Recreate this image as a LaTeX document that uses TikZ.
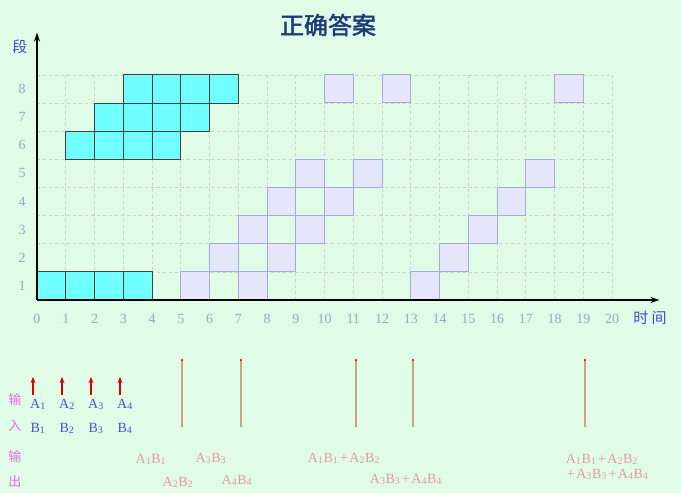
\documentclass[tikz,border=0pt]{standalone}
\usepackage{fontspec}
\setmainfont{Liberation Serif}
\newfontfamily\cjk[AutoFakeBold=2]{Noto Sans CJK SC}
\usetikzlibrary{arrows.meta}
\definecolor{bgc}{HTML}{E0FBE6}
\definecolor{cyanf}{HTML}{70FFFF}
\definecolor{lavf}{HTML}{E6E6FA}
\definecolor{lavd}{HTML}{A8A8DC}
\definecolor{gridc}{HTML}{C8D0C8}
\definecolor{axlabc}{HTML}{98A8C4}
\definecolor{titlec}{HTML}{1E3A78}
\definecolor{cjkblue}{HTML}{3A4EC8}
\definecolor{inblue}{HTML}{4555CC}
\definecolor{inpink}{HTML}{E070E0}
\definecolor{outpink}{HTML}{E09CA2}
\definecolor{vlinec}{HTML}{C8A484}
\newcommand{\sbd}[1]{\raisebox{-1pt}{\fontsize{10}{10}\selectfont #1}\kern0.6pt}
\newcommand{\pab}[1]{A\sbd{#1}B\sbd{#1}}
\newcommand{\pls}{\kern1.5pt+\kern1.5pt}
\tikzset{
  gridline/.style={draw=gridc, line width=0.6pt, dash pattern=on 3pt off 3pt},
  cyanbox/.style={fill=cyanf, draw=black!75, line width=0.9pt},
  lavbox/.style={fill=lavf, draw=lavd, line width=1pt},
  axisline/.style={draw=black, line width=1.6pt, -{Stealth[length=9pt,width=6pt]}},
  axlab/.style={text=axlabc, font=\fontsize{14}{14}\selectfont, inner sep=0pt},
  inlab/.style={text=inblue, font=\fontsize{14}{14}\selectfont, inner sep=0pt},
  inchar/.style={text=inpink, font=\cjk\fontsize{13}{13}\selectfont, inner sep=0pt},
  outlab/.style={text=outpink, font=\fontsize{14}{14}\selectfont, inner sep=0pt},
  inarrow/.style={draw=red!85!black, line width=1.2pt, -{Stealth[length=6pt,width=5pt]}},
  vline/.style={draw=vlinec, line width=1.3pt},
}
\begin{document}
\begin{tikzpicture}[x=1pt,y=-1pt]
\fill[bgc] (0,0) rectangle (681,493);
\useasboundingbox (0,0) rectangle (681,493);
\node[text=titlec, font=\cjk\bfseries\fontsize{24}{24}\selectfont, inner sep=0pt] (title) at (328,25) {正确答案};
\node[text=cjkblue, font=\cjk\fontsize{15}{15}\selectfont, inner sep=0pt] (duan) at (20,47) {段};
\node[text=cjkblue, font=\cjk\fontsize{15}{15}\selectfont, inner sep=0pt] (shijian) at (650,318) {时\ 间};
\begin{scope}[shift={(37,300)}, x=28.75pt, y=28.15pt]
  \foreach \i in {1,...,20} \draw[gridline] (\i,0) -- (\i,8);
  \foreach \j in {1,...,8} \draw[gridline] (0,\j) -- (20,\j);
  \foreach \a/\b in {0/0,1/0,2/0,3/0, 1/5,2/5,3/5,4/5, 2/6,3/6,4/6,5/6, 3/7,4/7,5/7,6/7}
    \draw[cyanbox] (\a,\b) rectangle ++(1,1);
  \foreach \a/\b in {5/0,7/0,13/0, 6/1,8/1,14/1, 7/2,9/2,15/2, 8/3,10/3,16/3, 9/4,11/4,17/4, 10/7,12/7,18/7}
    \draw[lavbox] (\a,\b) rectangle ++(1,1);
  \coordinate (O) at (0,0);
  \coordinate (xend) at (21.65,0);
  \coordinate (yend) at (0,9.5);
  \draw[axisline] (O) -- (xend);
  \draw[axisline] (O) -- (yend);
  \foreach \i in {0,...,20} \node[axlab] (xl\i) at (\i,-0.68) {\i};
  \foreach \j in {1,...,8} \node[axlab] (yl\j) at (-0.52,\j-0.5) {\j};
\end{scope}
% inputs
\node[inchar] (shu1) at (15,400) {输};
\node[inchar] (ru) at (15,426) {入};
\node[inchar] (shu2) at (15,457) {输};
\node[inchar] (chu) at (15,482) {出};
\foreach \k/\x in {1/38,2/67,3/96,4/125} {
  \node[inlab] (a\k) at (\x,404) {A\sbd{\k}};
  \node[inlab] (b\k) at (\x,428) {B\sbd{\k}};
  \coordinate (ab\k) at (\x-5,395);
  \coordinate (at\k) at (\x-5,377);
  \draw[inarrow] (ab\k) -- (at\k);
}
% vertical markers
\foreach \k/\x in {1/182,2/241,3/356,4/413,5/585} {
  \coordinate (vt\k) at (\x,360);
  \coordinate (vb\k) at (\x,427);
  \draw[vline] (vb\k) -- (vt\k);
  \fill[red!80!black] (vt\k) circle (1.2);
}
% outputs
\node[outlab] (o1) at (151,459) {\pab{1}};
\node[outlab] (o2) at (178,482) {\pab{2}};
\node[outlab] (o3) at (211,458) {\pab{3}};
\node[outlab] (o4) at (237,480) {\pab{4}};
\node[outlab] (o12) at (344,458) {\pab{1}\pls\pab{2}};
\node[outlab] (o34) at (406,479) {\pab{3}\pls\pab{4}};
\node[outlab] (oall1) at (602,459) {\pab{1}\pls\pab{2}};
\node[outlab] (oall2) at (607,474) {\pls\pab{3}\pls\pab{4}};
\end{tikzpicture}
\end{document}
